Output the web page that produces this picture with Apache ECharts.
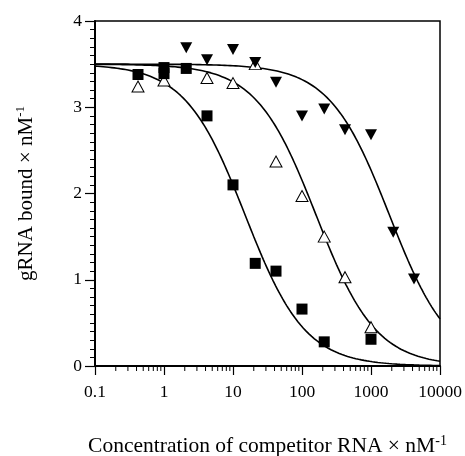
<!DOCTYPE html>
<html>
<head>
<meta charset="utf-8">
<script src="https://cdn.jsdelivr.net/npm/echarts@6/dist/echarts.min.js"></script>
<style>
  html, body { margin: 0; padding: 0; background: #fff; }
  #chart { width: 465px; height: 456px; }
</style>
</head>
<body>
<div id="chart"></div>
<script>
// x tick labels (log axis)
const xTicks = [0.1, 1, 10, 100, 1000, 10000];

// filled squares
const squareX = [0.42, 1, 1, 2.1, 4.2, 10, 21, 42, 100, 210, 1000];
const squareY = [3.38, 3.46, 3.39, 3.45, 2.90, 2.10, 1.19, 1.10, 0.66, 0.28, 0.31];

// open triangles
const openX = [0.42, 1, 4.2, 10, 21, 42, 100, 210, 420, 1000];
const openY = [3.24, 3.31, 3.34, 3.28, 3.50, 2.37, 1.97, 1.50, 1.03, 0.45];

// filled down triangles
const downX = [2.1, 4.2, 10, 21, 42, 100, 210, 420, 1000, 2100, 4200];
const downY = [3.69, 3.55, 3.67, 3.52, 3.29, 2.90, 2.98, 2.74, 2.68, 1.55, 1.01];

// fitted competition curves: top / (1 + x / IC50)
const fitTop = [3.5, 3.5, 3.5];
const fitIC50 = [15, 160, 1850];

const font = "'Liberation Serif', 'DejaVu Serif', serif";

function pairs(xs, ys) {
  return xs.map((x, i) => [x, ys[i]]);
}

function fitCurve(top, ic50) {
  const pts = [];
  for (let i = 0; i <= 250; i++) {
    const x = Math.pow(10, -1 + (5 * i) / 250);
    pts.push([x, top / (1 + x / ic50)]);
  }
  return pts;
}

// log-spaced minor ticks for the x axis (2..9 per decade)
const minorX = [];
for (let d = 0; d < xTicks.length - 1; d++) {
  for (let k = 2; k <= 9; k++) minorX.push([xTicks[d] * k, 0]);
}

const myChart = echarts.init(document.getElementById("chart"));

const curveStyle = { color: "#000", width: 1.6 };

myChart.setOption({
  animation: false,
  backgroundColor: "#fff",
  grid: {
    left: 95,
    right: 25,
    top: 21,
    bottom: 90,
    outerBoundsMode: "none",
    containLabel: false,
    show: true,
    borderColor: "#000",
    borderWidth: 1.5,
    backgroundColor: "transparent",
  },
  xAxis: {
    type: "log",
    logBase: 10,
    min: 0.1,
    max: 10000,
    name: "Concentration of competitor RNA × nM{sup|-1}",
    nameLocation: "middle",
    nameGap: 68,
    nameTextStyle: {
      fontFamily: font,
      fontSize: 21.5,
      color: "#000",
      rich: {
        sup: { fontFamily: font, fontSize: 14, color: "#000", verticalAlign: "top", padding: [0, 0, 11, 0] },
      },
    },
    axisLine: { lineStyle: { color: "#000", width: 2 } },
    axisTick: { inside: false, length: 9, lineStyle: { color: "#000", width: 1.2 } },
    minorTick: { show: false },
    splitLine: { show: false },
    axisLabel: {
      fontFamily: font,
      fontSize: 17.5,
      color: "#000",
      margin: 17,
      formatter: (v) => String(v),
    },
  },
  yAxis: {
    type: "value",
    min: 0,
    max: 4,
    interval: 1,
    name: "gRNA bound × nM{sup|-1}",
    nameLocation: "middle",
    nameGap: 57,
    nameTextStyle: {
      fontFamily: font,
      fontSize: 21,
      color: "#000",
      rich: {
        sup: { fontFamily: font, fontSize: 13, color: "#000", verticalAlign: "top", padding: [0, 0, 11, 0] },
      },
    },
    axisLine: { show: true, lineStyle: { color: "#000", width: 2 } },
    axisTick: { inside: false, length: 10, lineStyle: { color: "#000", width: 1.2 } },
    minorTick: { show: true, splitNumber: 10, length: 5, lineStyle: { color: "#000", width: 1 } },
    splitLine: { show: false },
    axisLabel: { fontFamily: font, fontSize: 17.5, color: "#000", margin: 13 },
  },
  series: [
    {
      type: "custom",
      silent: true,
      data: minorX,
      clip: false,
      renderItem: (params, api) => {
        const p = api.coord([api.value(0), 0]);
        return {
          type: "line",
          shape: { x1: p[0], y1: p[1], x2: p[0], y2: p[1] + 5 },
          style: { stroke: "#000", lineWidth: 1 },
        };
      },
      z: 1,
    },
    {
      type: "line",
      data: fitCurve(fitTop[0], fitIC50[0]),
      showSymbol: false,
      lineStyle: curveStyle,
      z: 2,
    },
    {
      type: "line",
      data: fitCurve(fitTop[1], fitIC50[1]),
      showSymbol: false,
      lineStyle: curveStyle,
      z: 2,
    },
    {
      type: "line",
      data: fitCurve(fitTop[2], fitIC50[2]),
      showSymbol: false,
      lineStyle: curveStyle,
      z: 2,
    },
    {
      name: "open",
      type: "scatter",
      data: pairs(openX, openY),
      symbol: "triangle",
      symbolSize: [12, 11],
      itemStyle: { color: "#fff", borderColor: "#000", borderWidth: 1, opacity: 1 },
      z: 3,
    },
    {
      name: "down",
      type: "scatter",
      data: pairs(downX, downY),
      symbol: "triangle",
      symbolRotate: 180,
      symbolSize: [12, 11],
      itemStyle: { color: "#000", opacity: 1 },
      z: 4,
    },
    {
      name: "square",
      type: "scatter",
      data: pairs(squareX, squareY),
      symbol: "rect",
      symbolSize: 11,
      itemStyle: { color: "#000", opacity: 1 },
      z: 5,
    },
  ],
});
</script>
</body>
</html>
